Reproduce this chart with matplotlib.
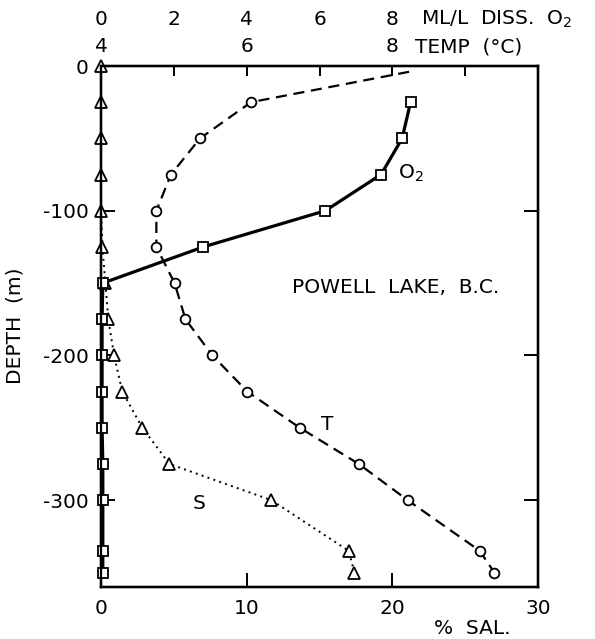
import matplotlib
matplotlib.use("Agg")
import matplotlib.pyplot as plt

plt.rcParams['font.family'] = ['DejaVu Sans']
plt.rcParams['axes.unicode_minus'] = False

# ---- data ----
o2_depth = [-25, -50, -75, -100, -125, -150, -175, -200, -225, -250, -275, -300, -335, -350]
o2_value = [8.5, 8.27, 7.69, 6.16, 2.81, 0.05, 0.03, 0.03, 0.03, 0.03, 0.05, 0.05, 0.05, 0.05]

t_depth = [-4, -25, -50, -75, -100, -125, -150, -175, -200, -225, -250, -275, -300, -335, -350]
t_value = [8.23, 6.06, 5.36, 4.96, 4.76, 4.76, 5.01, 5.16, 5.53, 6.01, 6.73, 7.54, 8.21, 9.20, 9.40]

s_depth = [0, -25, -50, -75, -100, -125, -150, -175, -200, -225, -250, -275, -300, -335, -350]
s_value = [0.0, 0.0, 0.0, 0.0, 0.0, 0.1, 0.3, 0.5, 0.9, 1.46, 2.84, 4.7, 11.7, 17.0, 17.4]

sal_ticks = [0, 10, 20, 30]
depth_ticks = [0, -100, -200, -300]
o2_ticks = [0, 2, 4, 6, 8, 10, 12]
o2_ticklabels = ['0', '2', '4', '6', '8', '', '']
temp_ticks = [4, 6, 8]

FS = 14.5

fig = plt.figure(figsize=(5.95, 6.39), dpi=100)
ax = fig.add_axes([101/595, 1-587/639, (538-101)/595, (587-66)/639])
ax.set_xlim(0, 30)
ax.set_ylim(-360, 0)

ax_o2 = ax.twiny()
ax_o2.set_xlim(0, 12)
ax_t = ax.twiny()
ax_t.set_xlim(4, 10)

for a in (ax, ax_o2, ax_t):
    for sp in a.spines.values():
        sp.set_linewidth(1.6)
    a.patch.set_visible(False)

# salinity (dotted, triangles)
ax.plot(s_value, s_depth, linestyle=(0, (1, 2.2)), color='black', lw=1.4,
        marker='^', ms=9, mfc='white', mec='black', mew=1.3, zorder=3,
        clip_on=False)
# temperature (dashed, circles), first point has no marker
ax_t.plot(t_value, t_depth, linestyle=(0, (5, 3)), color='black', lw=1.6,
          marker='o', ms=7, mfc='white', mec='black', mew=1.3,
          markevery=list(range(1, len(t_value))), zorder=3, clip_on=False)
# oxygen (solid, squares)
ax_o2.plot(o2_value, o2_depth, linestyle='-', color='black', lw=2.3,
           marker='s', ms=7, mfc='white', mec='black', mew=1.3, zorder=4,
           clip_on=False)

# bottom axis: salinity
ax.set_xticks(sal_ticks)
ax.set_xticklabels([str(v) for v in sal_ticks])
ax.set_yticks(depth_ticks)
ax.set_yticklabels([str(v) for v in depth_ticks])
ax.tick_params(axis='x', direction='in', length=10, width=1.4, pad=9,
               labelsize=FS, top=False, bottom=True)
ax.tick_params(axis='y', direction='in', length=10, width=1.4, pad=9,
               labelsize=FS, left=True, right=True, labelright=False)

# top axes: O2 and temperature
ax_o2.set_xticks(o2_ticks)
ax_o2.set_xticklabels(o2_ticklabels)
ax_o2.tick_params(axis='x', direction='in', length=7, width=1.4, pad=26.5,
                  labelsize=FS)
ax_t.set_xticks(temp_ticks)
ax_t.set_xticklabels([str(v) for v in temp_ticks])
ax_t.tick_params(axis='x', direction='in', length=0, pad=7, labelsize=FS)

# axis titles
fig.text(421/595, 1-19/639, 'ML/L  DISS.  O$_2$', fontsize=FS, ha='left', va='center')
fig.text(415/595, 1-47/639, 'TEMP  (°C)', fontsize=FS, ha='left', va='center')
fig.text(472/595, 1-628/639, '%  SAL.', fontsize=FS, ha='center', va='center')
fig.text(15/595, 1-326/639, 'DEPTH  (m)', fontsize=FS, ha='center', va='center',
         rotation=90)

# annotations in the plot
ax.text(13.1, -153, 'POWELL  LAKE,  B.C.', fontsize=FS, ha='left', va='center')
ax.text(20.4, -74, 'O$_2$', fontsize=FS, ha='left', va='center')
ax.text(15.5, -248, 'T', fontsize=FS, ha='center', va='center')
ax.text(6.7, -302, 'S', fontsize=FS, ha='center', va='center')

fig.savefig('out.png', dpi=100)
